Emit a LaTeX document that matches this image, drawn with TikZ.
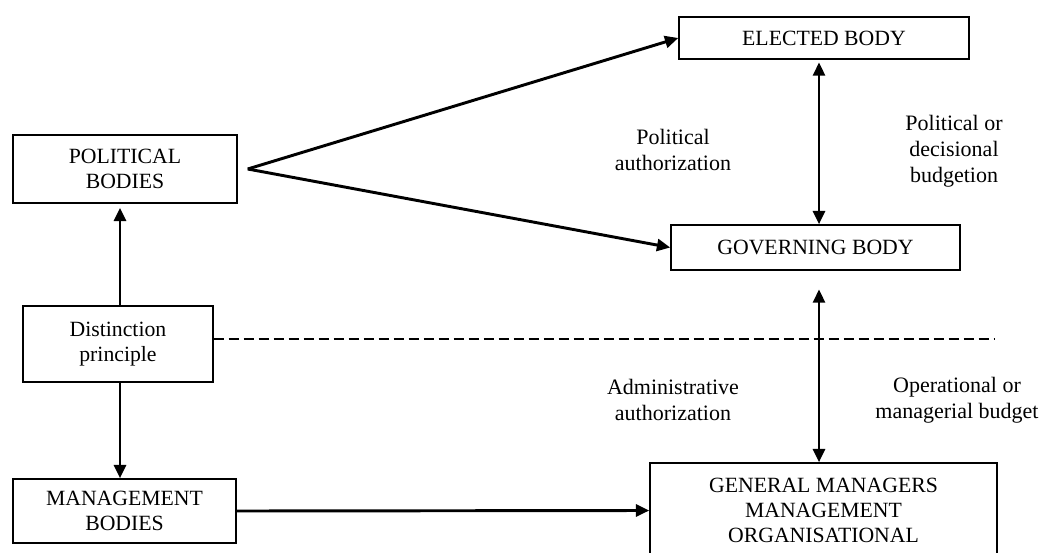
\documentclass[tikz,border=0pt]{standalone}
\usepackage{fontspec}
\setmainfont{Liberation Serif}
\usetikzlibrary{arrows.meta}
\usetikzlibrary{positioning}
\tikzstyle{block} = [rectangle, draw, line width=1.1pt, align=center,
inner sep=0pt, font=\fontsize{16.3}{19}\selectfont]
\tikzstyle{line} = [draw, line width=2.2pt, ->]
\tikzstyle{note} = [align=center, font=\fontsize{16.5}{19.5}\selectfont]

\begin{document}
\begin{tikzpicture}[x=0.75pt, y=-0.75pt,
>={Triangle[length=10pt,width=9pt]}
]
\useasboundingbox (0,0) rectangle (1046,553);
\clip (0,0) rectangle (1046,553);
% Place nodes
\node [block, minimum width=217.5pt, minimum height=31.5pt] (i1) at (824,38) {ELECTED BODY};
\node [block, minimum width=216.75pt, minimum height=33.75pt] (i2) at (815.5,247.5) {GOVERNING BODY};
\node [block, minimum width=168pt, minimum height=51pt] (i3) at (125,169) {POLITICAL\\BODIES};
\node [block, minimum width=142.5pt, minimum height=57pt] (i4) at (118,344) {Distinction\\principle};
\node [block, minimum width=260.25pt, minimum height=71.25pt] (i5) at (823.5,510.5) {GENERAL MANAGERS\\MANAGEMENT\\ORGANISATIONAL};
\node [block, minimum width=167.25pt, minimum height=48pt] (i6) at (124.5,511) {MANAGEMENT\\BODIES};

\node [note] (n1) at (673,150) {Political\\authorization};
\node [note] (n2) at (954,151) {Political or\\decisional\\budgetion};
\node [note] (n3) at (673,400) {Administrative\\authorization};
\node [note] (n4) at (957,400) {Operational or\\managerial budget};

\coordinate [right=7.5pt of i3] (apex);
\coordinate (ax) at (819,0);
\coordinate (vx) at (120,0);
\coordinate (dend) at (995,339);

% Draw edges
\path [line] (apex) -- (i1.west);
\path [line] (apex) -- (i2.west);
\path [line, <->, shorten <=2pt] (i1.south -| ax) -- (i2.north -| ax);
\path [line, <->, shorten <=14pt] (i2.south -| ax) -- (i5.north -| ax);
\path [line, shorten >=3pt] (i4.north -| vx) -- (i3.south -| vx);
\path [line] (i4.south -| vx) -- (i6.north -| vx);
\path [line] (i6.east) -- (i5.west);
\draw [line width=1.6pt, dash pattern=on 7.5pt off 3.75pt] (i4.east |- dend) -- (dend);
\end{tikzpicture}
\end{document}
